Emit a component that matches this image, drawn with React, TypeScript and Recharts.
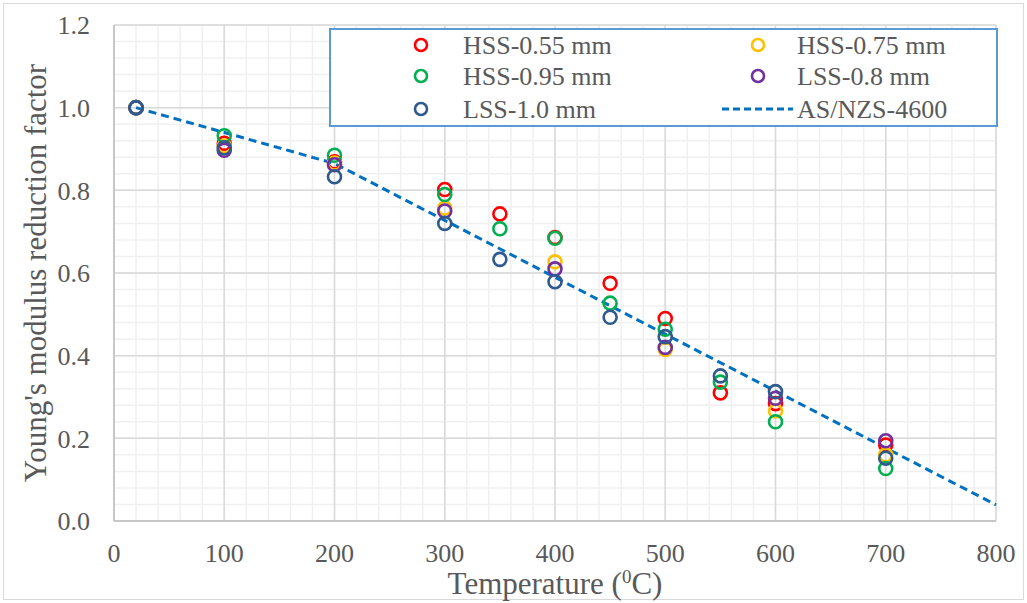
import React from 'react';
import { ComposedChart, Scatter, Line, XAxis, YAxis, CartesianGrid } from 'recharts';

// temperatures (°C) at which each group was tested
const tempsFull = [20, 100, 200, 300, 350, 400, 450, 500, 550, 600, 700];
const tempsPart = [20, 100, 200, 300, 400, 500, 600, 700];

// reduction factors
const hss055 = [1.0, 0.914, 0.869, 0.802, 0.743, 0.686, 0.575, 0.49, 0.31, 0.284, 0.184];
const hss075 = [1.0, 0.907, 0.866, 0.757, 0.627, 0.415, 0.266, 0.16];
const hss095 = [1.0, 0.932, 0.885, 0.79, 0.707, 0.684, 0.527, 0.464, 0.336, 0.24, 0.127];
const lss08 = [1.0, 0.897, 0.862, 0.75, 0.61, 0.42, 0.297, 0.194];
const lss10 = [1.0, 0.903, 0.833, 0.72, 0.633, 0.579, 0.493, 0.446, 0.351, 0.313, 0.152];

// AS/NZS-4600 design curve
const codeTemps = [20, 200, 800];
const codeValues = [1.0, 0.865, 0.039];

const xTicks = [0, 100, 200, 300, 400, 500, 600, 700, 800];
const yTicks = [0, 0.2, 0.4, 0.6, 0.8, 1.0, 1.2];

const FONT = '"Liberation Serif", "Times New Roman", serif';
const TEXT = '#595959';

const toPoints = (ts: number[], vs: number[]) => ts.map((t, i) => ({ t, v: vs[i] }));

const series = [
  { name: 'HSS-0.55 mm', color: '#FF0000', data: toPoints(tempsFull, hss055) },
  { name: 'HSS-0.75 mm', color: '#FFC000', data: toPoints(tempsPart, hss075) },
  { name: 'HSS-0.95 mm', color: '#00B050', data: toPoints(tempsFull, hss095) },
  { name: 'LSS-0.8 mm', color: '#7030A0', data: toPoints(tempsPart, lss08) },
  { name: 'LSS-1.0 mm', color: '#2F5A8E', data: toPoints(tempsFull, lss10) },
];
const codeData = toPoints(codeTemps, codeValues);

// minor grid every 20 °C / 0.04
const xMinor: number[] = [];
for (let i = 0; i <= 40; i++) xMinor.push(i * 20);
const yMinor: number[] = [];
for (let i = 0; i <= 30; i++) yMinor.push(i * 0.04);

const ring = (color: string) => (p: any) => (
  <circle cx={p.cx} cy={p.cy} r={6.5} fill="none" stroke={color} strokeWidth={2.6} />
);

function Legend() {
  const rows = [17, 48, 81];
  const items = [
    { col: 0, row: 0, s: series[0] },
    { col: 1, row: 0, s: series[1] },
    { col: 0, row: 1, s: series[2] },
    { col: 1, row: 1, s: series[3] },
    { col: 0, row: 2, s: series[4] },
  ];
  const markX = [92, 429];
  const textX = [134, 468];
  return (
    <svg
      width={669}
      height={99}
      style={{ position: 'absolute', left: 329, top: 28, background: '#fff' }}
    >
      <rect x={1} y={1} width={667} height={97} fill="#fff" stroke="#5B9BD5" strokeWidth={2} />
      {items.map((it) => (
        <g key={it.s.name}>
          <circle cx={markX[it.col]} cy={rows[it.row]} r={6} fill="none" stroke={it.s.color} strokeWidth={2.6} />
          <text x={textX[it.col]} y={rows[it.row] + 9} fontFamily={FONT} fontSize={26} fill={TEXT}>
            {it.s.name}
          </text>
        </g>
      ))}
      <line x1={393} x2={464} y1={rows[2]} y2={rows[2]} stroke="#0070C0" strokeWidth={3} strokeDasharray="7 4" />
      <text x={textX[1]} y={rows[2] + 9} fontFamily={FONT} fontSize={26} fill={TEXT}>
        AS/NZS-4600
      </text>
    </svg>
  );
}

export default function App() {
  return (
    <div style={{ position: 'absolute', left: 0, top: 0, width: 1027, height: 603, background: '#fff' }}>
      <div
        style={{
          position: 'absolute',
          left: 3,
          top: 3,
          width: 1019,
          height: 595,
          border: '1px solid #D9D9D9',
        }}
      />
      <ComposedChart
        width={1027}
        height={603}
        margin={{ top: 25, right: 31, bottom: 0, left: 0 }}
        style={{ position: 'absolute', left: 0, top: 0 }}
      >
        <CartesianGrid
          stroke="#F0F0F0"
          strokeWidth={1.5}
          verticalCoordinatesGenerator={({ xAxis, offset }: any) =>
            xMinor.map((v) =>
              xAxis && typeof xAxis.scale === 'function'
                ? xAxis.scale(v)
                : offset.left + (v / 800) * offset.width
            )
          }
          horizontalCoordinatesGenerator={({ yAxis, offset }: any) =>
            yMinor.map((v) =>
              yAxis && typeof yAxis.scale === 'function'
                ? yAxis.scale(v)
                : offset.top + offset.height - (v / 1.2) * offset.height
            )
          }
        />
        <CartesianGrid stroke="#D9D9D9" strokeWidth={1.5} />
        <XAxis
          dataKey="t"
          type="number"
          domain={[0, 800]}
          ticks={xTicks}
          interval={0}
          height={82}
          tickLine={false}
          tickSize={0}
          tickMargin={23}
          axisLine={{ stroke: '#BFBFBF', strokeWidth: 1.5 }}
          tick={{ fontFamily: FONT, fontSize: 26, fill: TEXT }}
          label={(props: any) => {
            const vb = props.viewBox;
            return (
              <text
                x={vb.x + vb.width / 2}
                y={594}
                textAnchor="middle"
                fontFamily={FONT}
                fontSize={31}
                fill={TEXT}
              >
                Temperature (<tspan dy={-11} fontSize={19}>0</tspan>
                <tspan dy={11}>C)</tspan>
              </text>
            );
          }}
        />
        <YAxis
          type="number"
          domain={[0, 1.2]}
          ticks={yTicks}
          interval={0}
          width={114}
          tickLine={false}
          tickSize={0}
          tickMargin={24}
          axisLine={{ stroke: '#BFBFBF', strokeWidth: 1.5 }}
          tickFormatter={(v: number) => v.toFixed(1)}
          tick={{ fontFamily: FONT, fontSize: 26, fill: TEXT }}
          label={(props: any) => {
            const vb = props.viewBox;
            const cy = vb.y + vb.height / 2;
            return (
              <text
                x={35}
                y={cy}
                transform={`rotate(-90, 35, ${cy})`}
                textAnchor="middle"
                dominantBaseline="central"
                fontFamily={FONT}
                fontSize={31}
                fill={TEXT}
              >
                Young's modulus reduction factor
              </text>
            );
          }}
        />
        <Line
          data={codeData}
          dataKey="v"
          type="linear"
          stroke="#0070C0"
          strokeWidth={3}
          strokeDasharray="8 5"
          dot={false}
          activeDot={false}
          isAnimationActive={false}
        />
        {series.map((s) => (
          <Scatter
            key={s.name}
            name={s.name}
            data={s.data}
            dataKey="v"
            shape={ring(s.color)}
            isAnimationActive={false}
          />
        ))}
      </ComposedChart>
      <Legend />
    </div>
  );
}
